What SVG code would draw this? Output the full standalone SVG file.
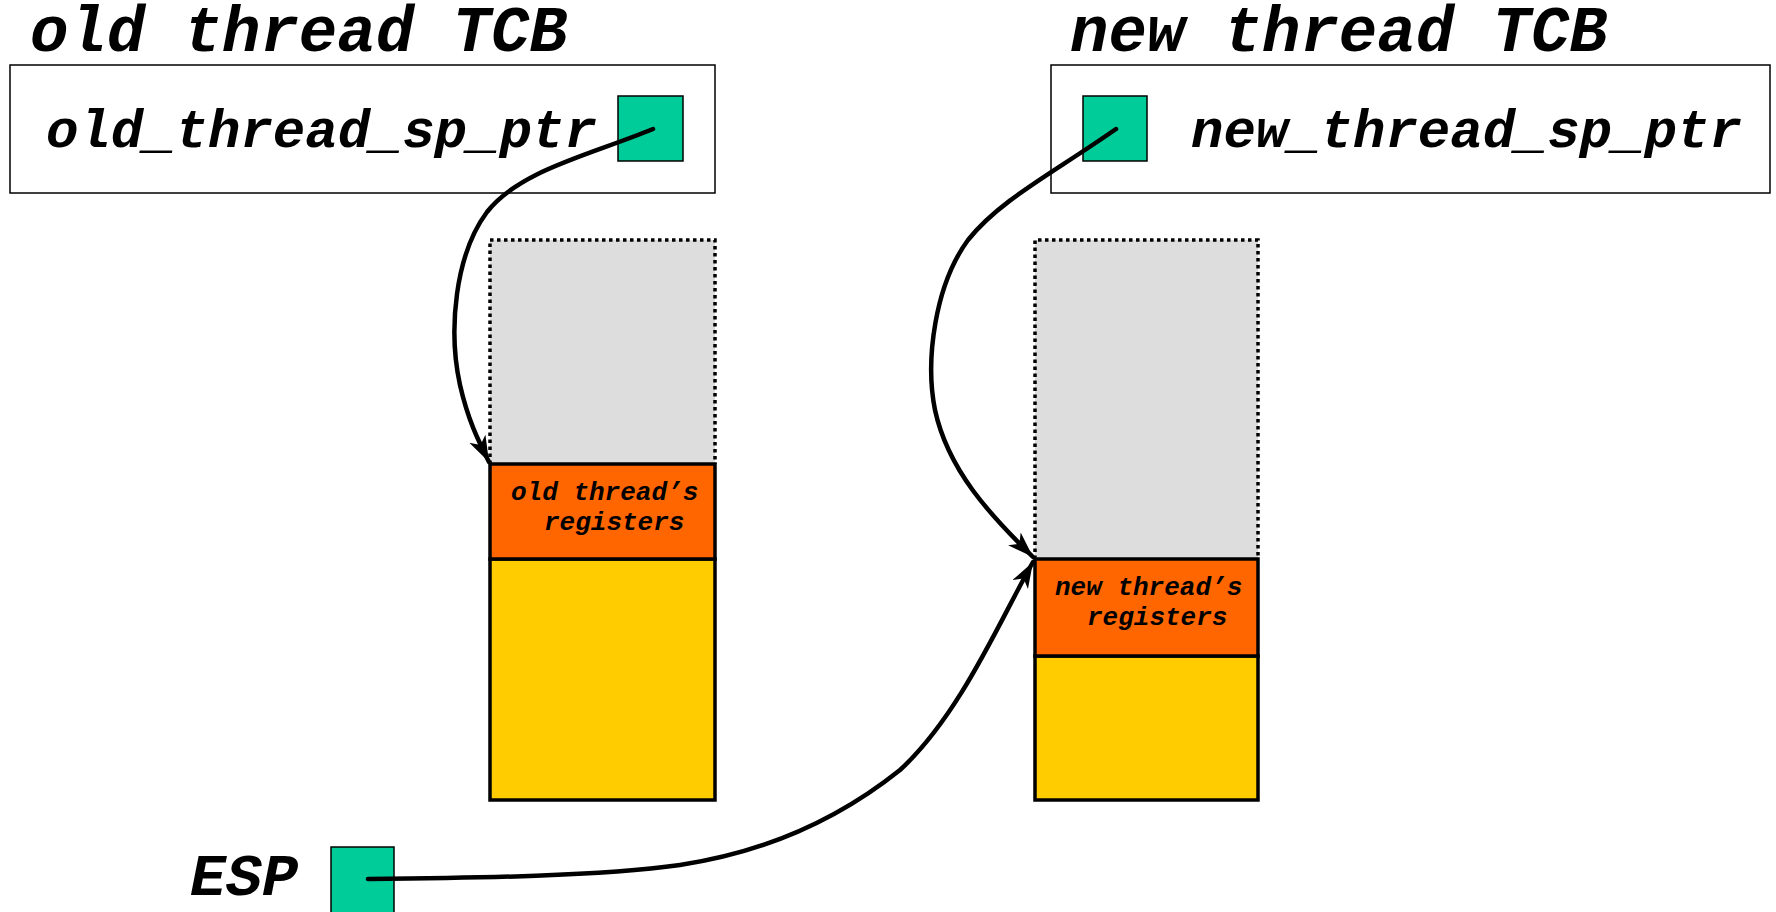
<svg xmlns="http://www.w3.org/2000/svg" width="1776" height="912" viewBox="0 0 1776 912">
  <style>
    .mono { font-family: "Liberation Mono", "Courier New", monospace; font-weight: bold; font-style: italic; fill: #000; }
    .title { font-size: 64px; }
    .esp { font-size: 60px; }
    .field { font-size: 54px; }
    .reg { font-size: 26px; }
    .tcb { fill: #fff; stroke: #000; stroke-width: 1.5; }
    .ptr { fill: #00cc99; stroke: #000; stroke-width: 1.5; }
    .free { fill: #dddddd; stroke: none; }
    .dots { fill: none; stroke: #000; stroke-width: 3.5; stroke-dasharray: 3.5 3.5; }
    .regs { fill: #ff6600; stroke: #000; stroke-width: 3.5; }
    .used { fill: #ffcc00; stroke: #000; stroke-width: 3.5; }
    .link { fill: none; stroke: #000; stroke-width: 4.5; stroke-linecap: round; marker-end: url(#head); }
  </style>
  <defs>
    <marker id="head" markerUnits="userSpaceOnUse" markerWidth="32" markerHeight="22" refX="26" refY="9" orient="auto">
      <path d="M0,0 L26,9 L0,18 L7,9 Z" fill="#000"/>
    </marker>
  </defs>

  <rect width="1776" height="912" fill="#fff"/>

  <!-- old thread control block -->
  <g id="old-tcb">
    <text class="mono title" x="30" y="51">old thread TCB</text>
    <rect class="tcb" x="10" y="65" width="705" height="128"/>
    <text class="mono field" x="46" y="147">old_thread_sp_ptr</text>
    <rect class="ptr" x="618" y="96" width="65" height="65"/>
  </g>

  <!-- new thread control block -->
  <g id="new-tcb">
    <text class="mono title" x="1070" y="51">new thread TCB</text>
    <rect class="tcb" x="1051" y="65" width="719" height="128"/>
    <rect class="ptr" x="1083" y="96" width="64" height="65"/>
    <text class="mono field" x="1191" y="147">new_thread_sp_ptr</text>
  </g>

  <!-- old thread stack -->
  <g id="old-stack">
    <rect class="free" x="490" y="240" width="225" height="224"/>
    <path class="dots" d="M490,464 V240 H715 V464"/>
    <rect class="used" x="490" y="559" width="225" height="241"/>
    <rect class="regs" x="490" y="464" width="225" height="95"/>
    <text class="mono reg" x="511" y="500">old thread’s</text>
    <text class="mono reg" x="544" y="530">registers</text>
  </g>

  <!-- new thread stack -->
  <g id="new-stack">
    <rect class="free" x="1035" y="240" width="223" height="319"/>
    <path class="dots" d="M1035,559 V240 H1258 V559"/>
    <rect class="used" x="1035" y="656" width="223" height="144"/>
    <rect class="regs" x="1035" y="559" width="223" height="97"/>
    <text class="mono reg" x="1055" y="595">new thread’s</text>
    <text class="mono reg" x="1087" y="625">registers</text>
  </g>

  <!-- stack pointer register -->
  <g id="esp">
    <text class="mono esp" x="190" y="895">ESP</text>
    <rect class="ptr" x="331" y="847" width="63" height="70"/>
  </g>

  <!-- pointer connectors -->
  <g id="connectors">
    <path class="link" d="M653,129 C590,155 520,170 487,212 C455,255 448,330 460,385 C468,420 478,440 489,462"/>
    <path class="link" d="M1116,129 C1050,175 1000,200 968,240 C935,285 925,360 935,410 C948,470 990,515 1033,557"/>
    <path class="link" d="M368,879 C480,878 600,876 680,865 C780,850 850,810 900,770 C960,715 1000,620 1033,562"/>
  </g>
</svg>
